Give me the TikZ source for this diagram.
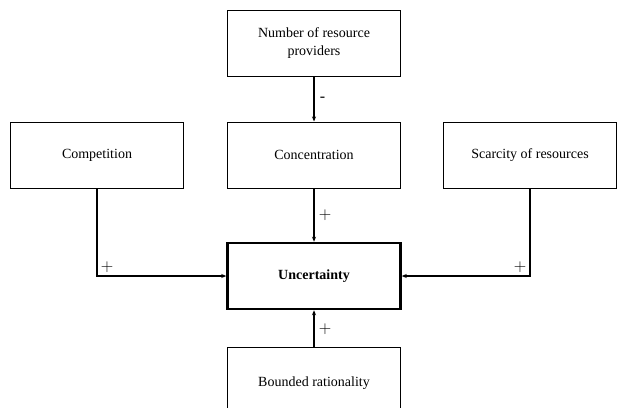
\documentclass[tikz,border=0pt]{standalone}
\usepackage{fontspec}
\setmainfont{Liberation Serif}
\usetikzlibrary{arrows.meta, positioning}

\begin{document}
\begin{tikzpicture}[x=1pt, y=-1pt,
  box/.style={draw, line width=1pt, minimum width=173pt, minimum height=66pt, inner sep=2pt, align=center, font=\fontsize{14}{18}\selectfont},
  arr/.style={-{Stealth[length=5pt, width=4pt]}, line width=1.5pt},
  lbl/.style={font=\fontsize{16}{18}\selectfont, inner sep=3pt}
]
\useasboundingbox (0,0) rectangle (618,407);

% Factors
\node[box] (prov) at (314, 43) {Number of resource\\providers};
\node[box] (comp) at (97, 155) {Competition};
\node[box] (conc) at (314, 155) {Concentration};
\node[box] (scar) at (530, 155) {Scarcity of resources};
\node[box, line width=2.5pt, font=\fontsize{14}{18}\selectfont\bfseries] (unc) at (314, 276) {Uncertainty};
\node[box, minimum height=72pt] (bound) at (314, 383) {Bounded rationality};

% Links
\draw[arr] (prov) -- (conc) node[lbl, midway, right, xshift=2pt] {-};
\draw[arr] (conc) -- (unc) node[lbl, midway, right, xshift=1pt] {$+$};
\draw[arr] (comp) |- (unc) node[lbl, pos=0.5, above right] {$+$};
\draw[arr] (scar) |- (unc) node[lbl, pos=0.5, above left] {$+$};
\draw[arr] (bound) -- (unc) node[lbl, midway, right, xshift=1pt, yshift=-1pt] {$+$};
\end{tikzpicture}
\end{document}
